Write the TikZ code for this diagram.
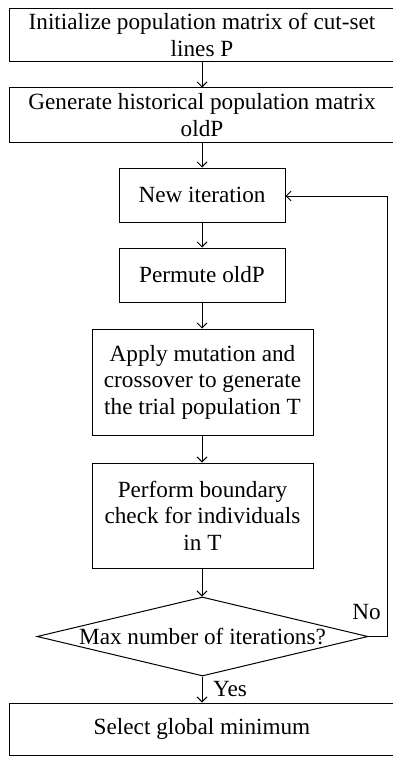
\documentclass[tikz,border=0pt]{standalone}
\usepackage{fontspec}
\setmainfont{Liberation Serif}
\usetikzlibrary{shapes.geometric,arrows.meta}
\begin{document}
\begin{tikzpicture}[x=1pt,y=-1pt,
  every node/.style={font=\fontsize{23.2}{26.5}\selectfont},
  box/.style={draw,line width=1pt,inner sep=0pt,align=center,anchor=center},
  arr/.style={line width=0.9pt,-{Straight Barb[length=5pt,width=10pt,line width=0.9pt]}}]
\useasboundingbox (0,0) rectangle (393,757);
\node[box,minimum width=386,minimum height=53] (b1) at (202,35) {Initialize population matrix of cut-set\\lines P};
\node[box,minimum width=386,minimum height=54] (b2) at (202,115) {Generate historical population matrix\\oldP};
\node[box,minimum width=166,minimum height=54] (b3) at (202,195) {New iteration};
\node[box,minimum width=166,minimum height=54] (b4) at (202,275) {Permute oldP};
\node[box,minimum width=221,minimum height=106] (b5) at (202.5,382) {Apply mutation and\\crossover to generate\\the trial population T};
\node[box,minimum width=221,minimum height=105] (b6) at (202.5,515.5) {Perform boundary\\check for individuals\\in T};
\node[box,diamond,shape aspect=4.5,minimum width=331,minimum height=79] (d) at (202.5,636.5) {Max number of iterations?};
\node[box,minimum width=386,minimum height=52] (b7) at (202,729) {Select global minimum};
\draw[arr] (b1.south -| b3) -- (b2.north -| b3);
\draw[arr] (b2.south -| b3) -- (b3.north);
\draw[arr] (b3.south) -- (b4.north);
\draw[arr] (b4.south) -- (b5.north -| b4);
\draw[arr] (b5.south -| b4) -- (b6.north -| b4);
\draw[arr] (b6.south -| b4) -- (d.north -| b4);
\draw[arr] (d.south -| b4) -- (b7.north -| b4);
\coordinate (c) at (387,636.5);
\draw[arr] (d.east) -- (c) |- ([yshift=-1pt]b3.east);
\node (no) at (366.5,612) {No};
\node (yes) at (230,689) {Yes};
\end{tikzpicture}
\end{document}
